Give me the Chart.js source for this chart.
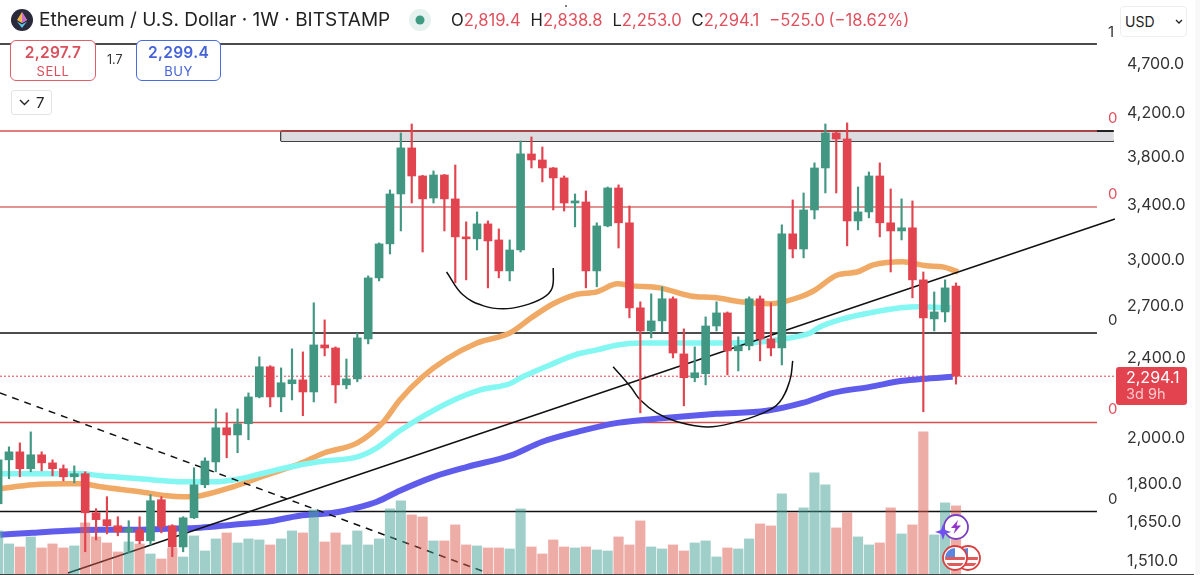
<!DOCTYPE html>
<html>
<head>
<meta charset="utf-8">
<title>ETHUSD 1W</title>
<script src="https://cdn.jsdelivr.net/npm/chart.js@4/dist/chart.umd.min.js"></script>
<style>
  html, body { margin: 0; padding: 0; background: #fff; }
  body { width: 1200px; height: 575px; overflow: hidden; position: relative; font-family: Inter, "Noto Sans", sans-serif; }
  canvas { position: absolute; left: 0; top: 0; }
  .t { position: absolute; white-space: nowrap; line-height: 1; }
  .red { color: #e0505c; }
  .box { position: absolute; background: #fff; border-radius: 6px; border: 1.5px solid; box-sizing: border-box; text-align: center; }
  .box b { display: block; font-weight: 600; font-size: 15.5px; line-height: 16px; margin-top: 4px; letter-spacing: .3px; }
  .box span { display: block; font-size: 13px; line-height: 14px; margin-top: 3px; letter-spacing: .5px; }
  svg { position: absolute; overflow: visible; }
</style>
</head>
<body>
<canvas id="chart" width="1200" height="575"></canvas>

<div style="position:absolute;left:0;top:574px;width:1194px;height:1px;background:#444"></div>
<div style="position:absolute;left:1195px;top:0;width:5px;height:575px;background:#f8f8f8"></div>

<svg style="left:11px;top:9px" width="22" height="22" viewBox="0 0 22 22">
  <circle cx="11" cy="11" r="11" fill="#2a2a3c"/>
  <polygon points="11,3 6,11 11,14 16,11" fill="#f3b64a"/>
  <polygon points="11,3 11,14 16,11" fill="#c66fd0"/>
  <polygon points="6,12.5 11,19 16,12.5 11,15.5" fill="#5ac8e8"/>
</svg>
<div class="t" style="left:39px;top:10px;font-size:19px;color:#222">Ethereum / U.S. Dollar · 1W · BITSTAMP</div>
<svg style="left:409px;top:9px" width="22" height="22"><circle cx="11" cy="11" r="11" fill="#e6f2ef"/><circle cx="11" cy="11" r="4.5" fill="#3f9b82"/></svg>
<div class="t" style="left:451px;top:12px;font-size:16.6px;word-spacing:0.3px;color:#222">O<span class="red">2,819.4</span>&nbsp; H<span class="red">2,838.8</span>&nbsp; L<span class="red">2,253.0</span>&nbsp; C<span class="red">2,294.1</span>&nbsp; <span class="red" style="word-spacing:-1px">−525.0 (−18.62%)</span></div>
<div style="position:absolute;left:565px;top:5px;width:2px;height:2px;background:#555;border-radius:1px"></div>

<div class="box" style="left:10px;top:40px;width:86px;height:41px;border-color:#e0606a;color:#d9505c"><b>2,297.7</b><span>SELL</span></div>
<div class="t" style="left:107px;top:54px;font-size:12.5px;color:#333">1.7</div>
<div class="box" style="left:136px;top:40px;width:85px;height:41px;border-color:#4a6be0;color:#4463d8"><b>2,299.4</b><span>BUY</span></div>

<div class="box" style="left:11px;top:90px;width:41px;height:25px;border:1px solid #e3e3e3;border-radius:3px"></div>
<svg style="left:19px;top:99px" width="12" height="8"><polyline points="1,1 5.5,5.5 10,1" fill="none" stroke="#222" stroke-width="1.4"/></svg>
<div class="t" style="left:36px;top:95px;font-size:15px;color:#222">7</div>

<div class="box" style="left:1120px;top:6px;width:67px;height:31px;border:1px solid #eee;border-radius:4px"></div>
<div class="t" style="left:1125px;top:15px;font-size:14px;color:#222">USD</div>
<svg style="left:1175px;top:19px" width="9" height="6"><polyline points="1,1 4,4 7,1" fill="none" stroke="#222" stroke-width="1.3"/></svg>

<div class="t" style="left:1108px;top:24px;font-size:15px;color:#333">1</div>
<div class="t red" style="left:1108px;top:110px;font-size:15px">0</div>
<div class="t red" style="left:1108px;top:186px;font-size:15px">0</div>
<div class="t" style="left:1108px;top:312px;font-size:15px;color:#333">0</div>
<div class="t red" style="left:1108px;top:401px;font-size:15px">0</div>
<div class="t" style="left:1108px;top:491px;font-size:15px;color:#333">0</div>

<div style="position:absolute;left:1116px;top:367px;width:71px;height:38px;background:#e3434f;border-radius:3px"></div>
<div class="t" style="left:1126px;top:369px;font-size:16px;color:#fff">2,294.1</div>
<div class="t" style="left:1126px;top:387px;font-size:14.5px;color:#f7c9cc">3d 9h</div>

<svg style="left:934px;top:513px" width="36" height="30">
  <circle cx="22" cy="14" r="12" fill="#fff" stroke="#7b3fc4" stroke-width="1.8"/>
  <polygon points="24,7 17,15 21.5,15 19.5,21 27,12.5 22.5,12.5" fill="#9333c9"/>
  <polygon points="9,11 11,17 17,19 11,21 9,27 7,21 1,19 7,17" fill="#6f50f0"/>
</svg>
<svg style="left:941px;top:544px" width="42" height="28">
  <defs>
    <clipPath id="c1"><circle cx="27" cy="14" r="10"/></clipPath>
    <clipPath id="c2"><circle cx="14" cy="14" r="10"/></clipPath>
  </defs>
  <circle cx="27" cy="14" r="12" fill="#fff" stroke="#d84040" stroke-width="1.8"/>
  <g clip-path="url(#c1)">
    <rect x="15" y="13" width="24" height="3" fill="#e25b5b"/>
    <rect x="15" y="19" width="24" height="3" fill="#e25b5b"/>
    <rect x="15" y="4" width="12" height="9" fill="#5a86de"/>
  </g>
  <circle cx="14" cy="14" r="12" fill="#fff" stroke="#d84040" stroke-width="1.8"/>
  <g clip-path="url(#c2)">
    <rect x="2" y="13" width="24" height="3" fill="#e25b5b"/>
    <rect x="2" y="19" width="24" height="3" fill="#e25b5b"/>
    <rect x="2" y="4" width="12" height="9" fill="#5a86de"/>
  </g>
</svg>

<script>
// weekly candles
const opens = [1714,1895,1930,1857,1917,1882,1857,1823,1836,1679,1653,1630,1608,1615,1575,1730,1630,1553,1660,1790,
  1886,2039,2006,2058,2188,2344,2188,2255,2275,2213,2464,2447,2249,2280,2498,2872,3104,3479,3865,3625,
  3447,3633,3440,3154,3140,3249,3132,2918,3061,3812,3760,3692,3609,3408,3416,2918,3234,3527,3257,2682,
  2544,2603,2738,2414,2286,2307,2573,2651,2431,2459,2738,2498,2447,3176,3068,3354,3692,3999,3945,3271,
  3339,3625,3257,3197,3220,2859,2615,2657,2819.4];
const highs = [1912,1952,1970,2020,1930,1895,1873,1869,1844,1695,1742,1664,1649,1664,1750,1742,1634,1664,1861,1904,
  2129,2110,2129,2208,2398,2350,2338,2442,2425,2713,2609,2453,2386,2532,2885,3111,3511,3999,4082,3630,
  3667,3638,3717,3264,3339,3271,3212,3132,3927,3963,3873,3696,3625,3479,3503,3257,3535,3552,3385,2719,
  2769,2814,2750,2556,2453,2627,2719,2657,2510,2750,2756,2713,3242,3432,3487,3735,4082,4005,4092,3535,
  3658,3735,3519,3440,3424,2911,2781,2859,2838.8];
const lows = [1706,1815,1823,1844,1848,1827,1806,1798,1536,1578,1600,1593,1532,1564,1560,1604,1519,1536,1657,1778,
  1844,1904,1926,1984,2183,2139,2115,2173,2096,2163,2403,2158,2229,2265,2470,2852,3033,3197,3408,3047,
  3408,3197,2840,2859,3061,2807,2872,2852,3047,3692,3576,3354,3346,3227,2807,2814,3227,3075,2621,2110,
  2504,2538,2392,2144,2265,2249,2544,2301,2322,2436,2376,2403,2354,3006,3006,3286,3487,3487,3090,3205,
  3294,3154,2911,3132,2744,2115,2544,2597,2253.0];
const closes = [1895,1930,1857,1917,1882,1857,1823,1836,1679,1653,1630,1608,1619,1575,1726,1626,1553,1660,1790,1890,
  2039,2006,2058,2188,2344,2188,2260,2275,2213,2464,2447,2249,2280,2504,2872,3104,3479,3865,3625,3440,
  3633,3440,3154,3140,3249,3125,2918,3061,3812,3760,3692,3609,3408,3424,2918,3234,3527,3257,2682,2544,
  2603,2738,2419,2286,2312,2573,2651,2431,2459,2738,2498,2447,3176,3068,3354,3692,3999,3945,3271,3339,
  3625,3257,3197,3220,2859,2621,2657,2807,2294.1];
const volumes = [44,31,28,38,27,31,27,29,52,38,32,23,33,31,21,16,27,18,39,24,
  36,42,32,36,35,30,36,44,42,65,33,42,30,44,30,36,66,74,60,58,
  34,34,50,30,29,27,27,26,66,28,21,35,28,27,28,25,24,38,30,54,
  28,26,30,24,32,34,18,27,26,36,51,49,81,62,67,102,90,47,62,38,
  30,32,67,41,50,143,40,72,69];

// moving averages: bar position and price
const orangeAt = [0.2,3.2,6.3,7.7,9.4,13,15.5,17,18.6,21.6,24.7,27.7,30,33,35.4,36.9,39,41.2,44,47,49.1,51,53,55,56.9,58.3,60.8,63.6,66,68.2,70.9,73.7,74.9,77.1,78.9,80.4,83.1,85.3,86.8,88.2];
const orangeVals = [1774,1790,1794,1794,1782,1762,1746,1742,1746,1782,1831,1878,1926,1970,2067,2173,2291,2386,2475,2532,2627,2707,2763,2781,2833,2820,2807,2756,2744,2719,2707,2750,2787,2891,2911,2958,2979,2952,2945,2911];
const cyanAt = [0.2,3.2,7.7,9.4,13,15.5,17,19.7,21.6,23.4,25.6,27.7,30,33,34.8,36.9,38.8,41.5,44.3,47,48.2,50.7,53,55,56.9,59,61.5,63.6,66,70,72.1,74.6,75.5,77.6,80.1,82.9,84.7,87.5];
const cyanVals = [1836,1836,1836,1827,1815,1806,1802,1802,1810,1827,1852,1873,1890,1908,1948,2025,2086,2163,2223,2255,2291,2354,2409,2436,2464,2475,2475,2475,2475,2481,2498,2532,2567,2615,2651,2682,2688,2682];
const blueAt = [0.2,3.2,6.3,9.4,12.4,15.5,18.6,21.6,24.7,27.7,30.8,33,34.8,36.9,40,43.1,47,50,53.2,56.9,61.5,66,70.6,73.9,76.7,80.1,83.1,84.9,87.7];
const blueVals = [1597,1604,1612,1615,1615,1619,1623,1634,1645,1668,1679,1699,1722,1766,1823,1865,1912,1975,2020,2062,2086,2105,2120,2158,2208,2239,2270,2280,2291];

// hand drawings on the chart
const blackLevels = [4900, 2532, 1684];
const redLevels = [4017, 3377, 2064];
const lastPrice = 2294.1;
const zoneTop = 4017, zoneBottom = 3925;
const zoneFrom = 26, zoneTo = 102.5;
const trendAt = [6.42, 102.6], trendVals = [1463, 3286];
const dashAt = [0.17, 45], dashVals = [2208, 1463];
const arc1At = [41.2,42.7,44.6,46.4,48.2,50.06,50.9,51];
const arc1Vals = [2911,2763,2694,2676,2694,2744,2807,2938];
const arc2At = [56.5,58.1,59,60.5,62.4,65.1,67.5,70.3,71.8,72.75,73];
const arc2Vals = [2344,2239,2173,2110,2067,2043,2062,2110,2163,2275,2376];

const priceTicks = [4700,4200,3800,3400,3000,2700,2400,2000,1800,1650,1510];

const GREEN = '#429782', RED = '#e2444f';
const idx = opens.map((_, i) => i);
const up = opens.map((o, i) => closes[i] >= o);
const pairs = (xs, ys) => xs.map((x, i) => ({ x, y: ys[i] }));
const XMIN = 0.1746, XMAX = 102.7, LEVEL_END = 100.95;

function line(data, color, width, order, extra) {
  return Object.assign({ type: 'line', data, borderColor: color, borderWidth: width, order, pointRadius: 0, fill: false, yAxisID: 'y' }, extra);
}
function level(v, color, w) {
  return line(pairs([XMIN, LEVEL_END], [v, v]), color, w, 8);
}

const datasets = [
  // zone
  line(pairs([zoneFrom, zoneTo], [zoneTop, zoneTop]), '#222', 1.8, 9, { fill: '+1', backgroundColor: '#dcdbe0' }),
  line(pairs([zoneFrom, zoneTo], [zoneBottom, zoneBottom]), '#111', 1.8, 9),
  line(pairs([zoneFrom, zoneFrom], [zoneTop, zoneBottom]), '#111', 1.8, 9),
  // levels
  ...blackLevels.map(v => level(v, '#111', 1.5)),
  level(redLevels[0], '#d94f4f', 1.6),
  level(redLevels[1], '#d5716f', 1.6),
  level(redLevels[2], '#d94f4f', 1.4),
  line(pairs([XMIN, XMAX], [lastPrice, lastPrice]), '#e2444f', 1, 8, { borderDash: [2, 2] }),
  // moving averages
  line(pairs(orangeAt, orangeVals), '#f0aa66', 5.5, 7, { cubicInterpolationMode: 'monotone' }),
  line(pairs(cyanAt, cyanVals), '#84f7f3', 5.5, 6.5, { cubicInterpolationMode: 'monotone' }),
  line(pairs(blueAt, blueVals), '#5f5cec', 6, 6.5, { cubicInterpolationMode: 'monotone' }),
  // drawn lines
  line(pairs(trendAt, trendVals), '#111', 1.5, 5),
  line(pairs(dashAt, dashVals), '#111', 1.5, 5, { borderDash: [7, 6] }),
  line(pairs(arc1At, arc1Vals), '#111', 1.5, 5, { tension: 0.4 }),
  line(pairs(arc2At, arc2Vals), '#111', 1.5, 5, { tension: 0.4 }),
  // volume, wicks, bodies
  { type: 'bar', yAxisID: 'vol', order: 4, grouped: false, barThickness: 9.5,
    data: pairs(idx, volumes),
    backgroundColor: up.map(u => u ? 'rgba(66,160,150,0.5)' : 'rgba(222,90,80,0.5)') },
  { type: 'bar', yAxisID: 'y', order: 2, grouped: false, barThickness: 1.5,
    data: idx.map(i => ({ x: i, y: [lows[i], highs[i]] })),
    backgroundColor: up.map(u => u ? GREEN : RED) },
  { type: 'bar', yAxisID: 'y', order: 1, grouped: false, barThickness: 8,
    data: idx.map(i => ({ x: i, y: [opens[i], closes[i]] })),
    backgroundColor: up.map(u => u ? GREEN : RED) }
];

// canvas 'middle' baseline sits a bit high for these digits
function nudgeLabels(s) {
  if (s._nudged) return;
  s._nudged = true;
  const draw = s.drawLabels.bind(s);
  s.drawLabels = area => {
    s.ctx.save();
    s.ctx.translate(0, 1.5);
    draw(area);
    s.ctx.restore();
  };
}

new Chart(document.getElementById('chart'), {
  data: { datasets },
  options: {
    responsive: false,
    animation: false,
    devicePixelRatio: 1,
    layout: { padding: 0 },
    plugins: { legend: { display: false }, tooltip: { enabled: false } },
    scales: {
      x: { type: 'linear', min: XMIN, max: XMAX, display: false, offset: false },
      y: {
        type: 'logarithmic', position: 'right', min: 1456.6, max: 5419,
        grid: { display: false, drawTicks: false }, border: { display: false },
        afterBuildTicks: s => { s.ticks = priceTicks.map(value => ({ value })); },
        afterFit: s => { s.width = 84; s.paddingTop = 0; s.paddingBottom = 0; },
        afterUpdate: nudgeLabels,
        ticks: {
          autoSkip: false, padding: 11, color: '#333', maxRotation: 0,
          font: { family: 'Inter', size: 16 },
          callback: v => Number(v).toLocaleString('en-US', { minimumFractionDigits: 1, maximumFractionDigits: 1 })
        }
      },
      vol: { type: 'linear', display: false, min: 0, max: 574 }
    }
  }
});
</script>
</body>
</html>
